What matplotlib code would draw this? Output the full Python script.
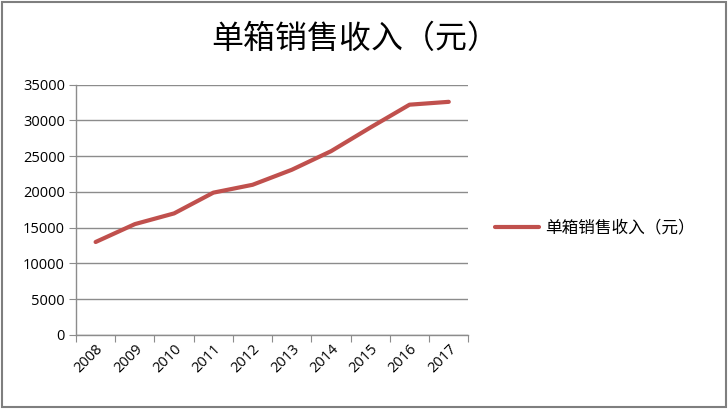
import matplotlib
matplotlib.use("Agg")
import matplotlib.pyplot as plt
from matplotlib.patches import Rectangle
import numpy as np

plt.rcParams['font.family'] = ['Noto Sans CJK SC', 'DejaVu Sans']

years = ['2008', '2009', '2010', '2011', '2012', '2013', '2014', '2015', '2016', '2017']
values = [13000, 15500, 17000, 19900, 21000, 23100, 25700, 29000, 32200, 32600]
series_name = '单箱销售收入（元）'
yticks = [0, 5000, 10000, 15000, 20000, 25000, 30000, 35000]

fig = plt.figure(figsize=(7.28, 4.09), dpi=100)
ax = fig.add_axes([0.1044, 0.181, 0.539, 0.612])

x = np.arange(len(years))
ax.plot(x, values, color='#C0504D', linewidth=3, label=series_name, solid_capstyle='round')

ax.set_xlim(-0.5, len(years) - 0.5)
ax.set_ylim(0, 35000)
ax.set_yticks(yticks)
ax.set_yticklabels([str(v) for v in yticks], fontsize=10.5, family=['Open Sans', 'DejaVu Sans'])
ax.yaxis.grid(True, color='#8C8C8C', linewidth=1)
ax.set_axisbelow(True)

ax.set_xticks(np.arange(-0.5, len(years), 1.0))
ax.set_xticklabels([])
ax.set_xticks(x, minor=True)
ax.set_xticklabels(years, minor=True, rotation=45, ha='right', va='top',
                   rotation_mode='anchor', fontsize=10.5, family=['Open Sans', 'DejaVu Sans'])
ax.tick_params(axis='x', which='minor', length=0, pad=5)
ax.tick_params(axis='x', which='major', length=5, color='#8C8C8C')
ax.tick_params(axis='y', length=5, color='#8C8C8C', pad=3)

for s in ['top', 'right']:
    ax.spines[s].set_visible(False)
for s in ['left', 'bottom']:
    ax.spines[s].set_color('#8C8C8C')
    ax.spines[s].set_linewidth(1)

fig.text(0.488, 0.905, series_name, ha='center', va='center', fontsize=23,
         fontweight='medium', color='black')

leg = fig.legend(loc='center left', bbox_to_anchor=(0.66, 0.442), frameon=False,
                 fontsize=12, handlelength=2.6, handletextpad=0.4)

fig.patches.append(Rectangle((0.003, 0.005), 0.994, 0.99, transform=fig.transFigure,
                             fill=False, edgecolor='#7F7F7F', linewidth=1.5))

fig.savefig('out.png', dpi=100)
